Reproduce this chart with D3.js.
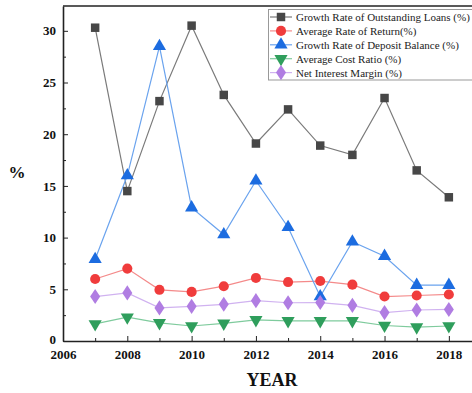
<!DOCTYPE html>
<html>
<head>
<meta charset="utf-8">
<script src="https://cdn.jsdelivr.net/npm/d3@7"></script>
<style>
  html, body { margin: 0; padding: 0; background: #fff; }
  svg { display: block; }
</style>
</head>
<body>
<svg id="chart" width="472" height="393"></svg>
<script>
// Bank indicators by year (%)
const years = [2007, 2008, 2009, 2010, 2011, 2012, 2013, 2014, 2015, 2016, 2017, 2018];
const loanGrowth    = [30.3, 14.5, 23.2, 30.5, 23.8, 19.1, 22.4, 18.9, 18.0, 23.5, 16.5, 13.9];
const returnRate    = [6.0, 7.0, 4.95, 4.75, 5.3, 6.1, 5.7, 5.8, 5.45, 4.3, 4.4, 4.5];
const depositGrowth = [7.9, 16.0, 28.5, 12.9, 10.3, 15.5, 11.0, 4.3, 9.6, 8.2, 5.4, 5.4];
const costRatio     = [1.65, 2.3, 1.75, 1.45, 1.7, 2.05, 1.95, 1.95, 1.95, 1.5, 1.35, 1.45];
const netMargin     = [4.3, 4.65, 3.2, 3.35, 3.55, 3.9, 3.7, 3.72, 3.45, 2.75, 3.0, 3.05];
const seriesNames = [
  "Growth Rate of Outstanding Loans (%)",
  "Average Rate of Return(%)",
  "Growth Rate of Deposit Balance (%)",
  "Average Cost Ratio (%)",
  "Net Interest Margin (%)"
];
const xTicks = [2006, 2008, 2010, 2012, 2014, 2016, 2018];
const yTicks = [0, 5, 10, 15, 20, 25, 30];

(function () {
const series = [
  { name: seriesNames[0], values: loanGrowth,    marker: "square",   fill: "#474747", line: "#7a7a7a" },
  { name: seriesNames[1], values: returnRate,    marker: "circle",   fill: "#f03c3c", line: "#f48a8a" },
  { name: seriesNames[2], values: depositGrowth, marker: "triangle", fill: "#1c6ce0", line: "#6aa3ee" },
  { name: seriesNames[3], values: costRatio,     marker: "triDown",  fill: "#2f9e5c", line: "#7fcb9d" },
  { name: seriesNames[4], values: netMargin,     marker: "diamond",  fill: "#b07de2", line: "#d0b2f0" }
];

const svg = d3.select("#chart");
const mLeft = 63, mTop = 6, mBottom = 341, mRight = 481;

const x = d3.scaleLinear().domain([2006, 2019]).range([mLeft, mRight]);
const y = d3.scaleLinear().domain([0, 32.4]).range([mBottom, mTop]);

const serif = "'Liberation Serif', 'Times New Roman', serif";

// frame (top border)
svg.append("line")
  .attr("x1", mLeft).attr("x2", mRight).attr("y1", mTop).attr("y2", mTop)
  .attr("stroke", "#222").attr("stroke-width", 1.6);

// axes with inward ticks
svg.append("g").attr("transform", `translate(0,${mBottom})`)
  .call(d3.axisBottom(x).tickValues(xTicks).tickFormat(d3.format("d")).tickSizeInner(-5).tickSizeOuter(0).tickPadding(9));
svg.append("g").attr("transform", `translate(0,${mBottom})`)
  .call(d3.axisBottom(x).tickValues(d3.range(2007, 2019, 2)).tickFormat("").tickSizeInner(-3).tickSizeOuter(0))
  .select(".domain").remove();

const yAxis = svg.append("g").attr("transform", `translate(${mLeft},0)`)
  .call(d3.axisLeft(y).tickValues(yTicks).tickSizeInner(-5).tickSizeOuter(0).tickPadding(8));
svg.append("g").attr("transform", `translate(${mLeft},0)`)
  .call(d3.axisLeft(y).tickValues(d3.range(2.5, 32.5, 5)).tickFormat("").tickSizeInner(-3).tickSizeOuter(0))
  .select(".domain").remove();

svg.selectAll(".domain").attr("stroke", "#222").attr("stroke-width", 1.6);
svg.selectAll(".tick line").attr("stroke", "#222").attr("stroke-width", 1);
svg.selectAll(".tick text")
  .attr("font-family", serif).attr("font-weight", "bold").attr("font-size", 13).attr("fill", "#111");
yAxis.selectAll(".tick text").attr("dx", "1");
// keep the 0 label clear of the first year label
yAxis.selectAll(".tick text").filter(d => d === 0).attr("dy", "0.2em");

// axis titles
svg.append("text").attr("x", 17).attr("y", 178).attr("text-anchor", "middle")
  .attr("font-family", serif).attr("font-weight", "bold").attr("font-size", 17).attr("fill", "#111")
  .text("%");
svg.append("text").attr("x", 272).attr("y", 386).attr("text-anchor", "middle")
  .attr("font-family", serif).attr("font-weight", "bold").attr("font-size", 18).attr("fill", "#111")
  .text("YEAR");

// marker shapes
const symbolFor = {
  square: d3.symbol().type(d3.symbolSquare).size(72),
  circle: d3.symbol().type(d3.symbolCircle).size(80),
  triangle: d3.symbol().type(d3.symbolTriangle).size(75),
  triDown: d3.symbol().type(d3.symbolTriangle).size(75),
  diamond: d3.symbol().type(d3.symbolDiamond).size(66)
};
function markerTransform(m, cx, cy) {
  if (m === "triDown") return `translate(${cx},${cy}) rotate(180)`;
  if (m === "diamond") return `translate(${cx},${cy}) scale(1.15,1)`;
  return `translate(${cx},${cy})`;
}

const lineGen = d3.line().x((d, i) => x(years[i])).y(d => y(d));

const plot = svg.append("g");
series.forEach(s => {
  plot.append("path").datum(s.values)
    .attr("d", lineGen).attr("fill", "none")
    .attr("stroke", s.line).attr("stroke-width", 1.2);
});
series.forEach(s => {
  plot.selectAll(null).data(s.values).enter().append("path")
    .attr("d", symbolFor[s.marker]())
    .attr("transform", (d, i) => markerTransform(s.marker, x(years[i]), y(d)))
    .attr("fill", s.fill);
});

// legend
const lg = svg.append("g");
lg.append("rect").attr("x", 268.5).attr("y", 9.5).attr("width", 210).attr("height", 70.5)
  .attr("fill", "#fff").attr("stroke", "#999").attr("stroke-width", 1);
series.forEach((s, i) => {
  const cy = 17 + i * 13.9;
  lg.append("line").attr("x1", 270).attr("x2", 292).attr("y1", cy).attr("y2", cy)
    .attr("stroke", s.line).attr("stroke-width", 1.2);
  lg.append("path").attr("d", symbolFor[s.marker]())
    .attr("transform", markerTransform(s.marker, 281, cy)).attr("fill", s.fill);
  lg.append("text").attr("x", 296).attr("y", cy + 4)
    .attr("font-family", serif).attr("font-size", 11).attr("fill", "#222")
    .text(s.name);
});
})();
</script>
</body>
</html>
